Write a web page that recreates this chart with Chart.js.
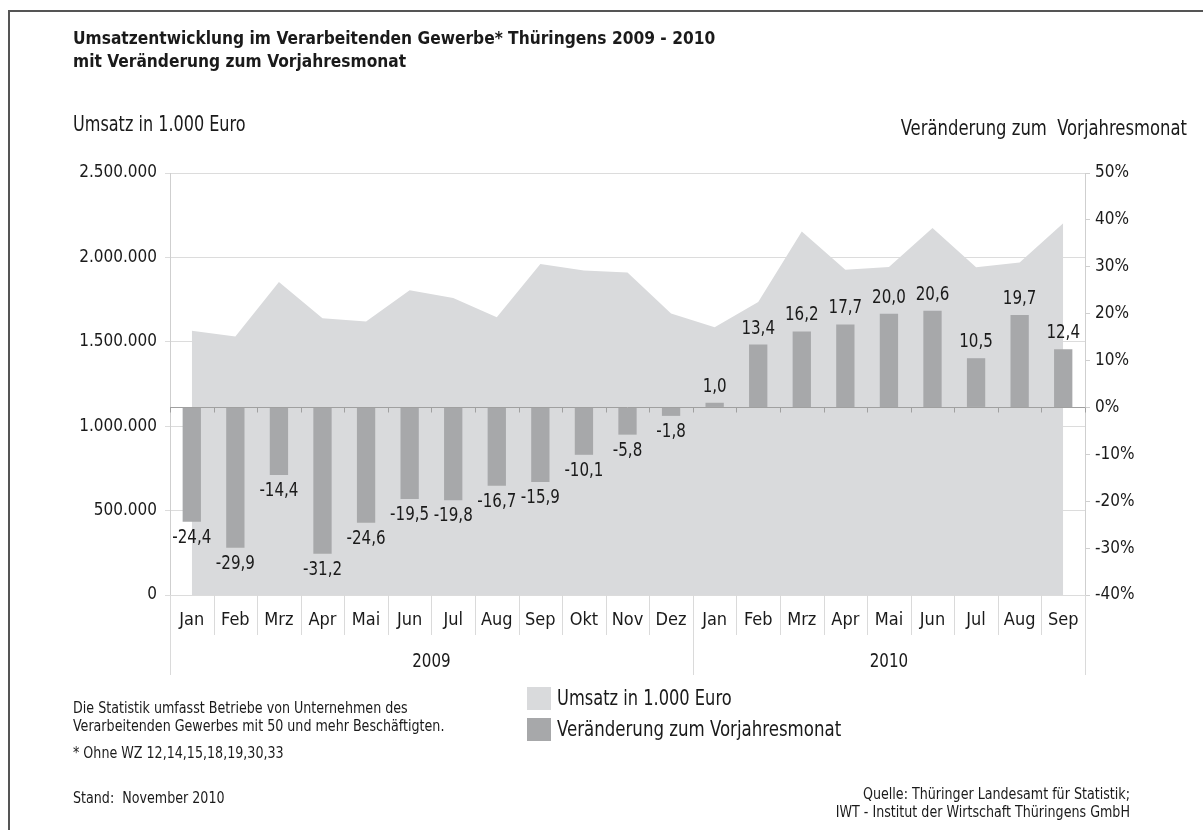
<!DOCTYPE html>
<html lang="de">
<head>
<meta charset="UTF-8">
<title>Umsatzentwicklung Verarbeitendes Gewerbe Thüringen 2009 - 2010</title>
<script src="https://cdn.jsdelivr.net/npm/chart.js@4/dist/chart.umd.min.js"></script>
<style>
    body { margin: 0; padding: 0; background: #fff; }
    #wrap { position: relative; width: 1203px; height: 830px; overflow: hidden;
            font-family: "Liberation Sans Narrow", "DejaVu Sans Condensed", "Roboto", sans-serif; color: #1a1a1a; }
    #frame { position: absolute; left: 8px; top: 10px; width: 1300px; height: 900px;
             border-left: 2px solid #555; border-top: 2px solid #555; }
    #chart { position: absolute; left: 0; top: 0; }
    .txt { position: absolute; white-space: nowrap; line-height: 1; transform-origin: left top; }
    .r { transform-origin: right top; text-align: right; }
    .box { position: absolute; width: 24px; height: 23px; }
</style>
</head>
<body>
<div id="wrap">
    <div id="frame"></div>
    <canvas id="chart" width="1203" height="830"></canvas>

    <div class="txt" style="left:73px; top:26px; font-size:18.5px; font-weight:bold; line-height:23px; transform:scaleX(0.93);">
        Umsatzentwicklung im Verarbeitenden Gewerbe* Thüringens 2009 - 2010<br>mit Veränderung zum Vorjahresmonat
    </div>
    <div class="txt" style="left:73px; top:114px; font-size:21px; transform:scaleX(0.85);">Umsatz in 1.000 Euro</div>
    <div class="txt r" style="right:16px; top:118px; font-size:21px; transform:scaleX(0.87);">Veränderung zum&nbsp; Vorjahresmonat</div>

    <!-- legend -->
    <div class="box" style="left:527px; top:687px; background:#d9dadc;"></div>
    <div class="txt" style="left:557px; top:688px; font-size:21px; transform:scaleX(0.86);">Umsatz in 1.000 Euro</div>
    <div class="box" style="left:527px; top:718px; background:#a7a8aa;"></div>
    <div class="txt" style="left:557px; top:719px; font-size:21px; transform:scaleX(0.88);">Veränderung zum Vorjahresmonat</div>

    <!-- notes -->
    <div class="txt" style="left:73px; top:701px; font-size:15px; transform:scaleX(0.94);">Die Statistik umfasst Betriebe von Unternehmen des</div>
    <div class="txt" style="left:73px; top:719px; font-size:15px; transform:scaleX(0.94);">Verarbeitenden Gewerbes mit 50 und mehr Beschäftigten.</div>
    <div class="txt" style="left:73px; top:746px; font-size:15px; transform:scaleX(0.94);">* Ohne WZ 12,14,15,18,19,30,33</div>
    <div class="txt" style="left:73px; top:791px; font-size:15px; transform:scaleX(0.94);">Stand:&nbsp; November 2010</div>
    <div class="txt r" style="right:73px; top:785px; font-size:15px; line-height:18px; transform:scaleX(0.94);">
        Quelle: Thüringer Landesamt für Statistik;<br>IWT - Institut der Wirtschaft Thüringens GmbH
    </div>
</div>

<script>
    // Monate (Kategorien)
    const months = ['Jan', 'Feb', 'Mrz', 'Apr', 'Mai', 'Jun', 'Jul', 'Aug', 'Sep', 'Okt', 'Nov', 'Dez',
                    'Jan', 'Feb', 'Mrz', 'Apr', 'Mai', 'Jun', 'Jul', 'Aug', 'Sep'];
    const years = ['2009', '2010'];
    const monthsPerYear = [12, 9];

    // Umsatz in 1.000 Euro
    const umsatz = [1565000, 1531000, 1854000, 1639000, 1621000, 1805000, 1760000, 1645000, 1961000, 1923000, 1911000, 1667000,
                    1586000, 1736000, 2154000, 1927000, 1943000, 2174000, 1941000, 1970000, 2203000];

    // Veränderung zum Vorjahresmonat in %
    const veraenderung = [-24.4, -29.9, -14.4, -31.2, -24.6, -19.5, -19.8, -16.7, -15.9, -10.1, -5.8, -1.8,
                          1.0, 13.4, 16.2, 17.7, 20.0, 20.6, 10.5, 19.7, 12.4];

    // Achsen
    const umsatzMin = 0, umsatzMax = 2500000, umsatzStep = 500000;
    const prozentMin = -40, prozentMax = 50, prozentStep = 10;

    const FONT = '"Liberation Sans Narrow", "DejaVu Sans Condensed", "Roboto", sans-serif';
    const INK = '#1a1a1a';
    const SQUEEZE = 0.84;   // Schrift schmaler ziehen (Condensed-Optik)

    const fmtTsd = v => String(v).replace(/\B(?=(\d{3})+(?!\d))/g, '.');
    const fmtDez = v => v.toFixed(1).replace('.', ',');

    function narrowText(ctx, s, x, y) {
        ctx.save();
        ctx.translate(x, y);
        ctx.scale(SQUEEZE, 1);
        ctx.fillText(s, 0, 0);
        ctx.restore();
    }

    // Zusatzzeichnung: Nulllinie, Trennstriche unter der Achse, Jahre, Balkenwerte
    const decor = {
        id: 'decor',
        afterDatasetsDraw(chart) {
            const {ctx, chartArea: a, scales: {x, y1}} = chart;
            const n = months.length;
            const edge = i => i === 0 ? a.left : i === n ? a.right
                : (x.getPixelForValue(i - 1) + x.getPixelForValue(i)) / 2;
            const px = v => Math.round(v) + 0.5;

            ctx.save();
            // Nulllinie der Prozentachse mit Teilstrichen
            const y0 = px(y1.getPixelForValue(0));
            ctx.strokeStyle = '#a0a0a0';
            ctx.lineWidth = 1;
            ctx.beginPath();
            ctx.moveTo(a.left, y0);
            ctx.lineTo(a.right, y0);
            for (let i = 0; i <= n; i++) {
                ctx.moveTo(px(edge(i)), y0);
                ctx.lineTo(px(edge(i)), y0 + 5);
            }
            ctx.stroke();

            // Trennstriche Monate / Jahre
            ctx.strokeStyle = '#dadada';
            ctx.beginPath();
            const groupEdges = [0];
            monthsPerYear.reduce((s, c) => { groupEdges.push(s + c); return s + c; }, 0);
            for (let i = 0; i <= n; i++) {
                const len = groupEdges.includes(i) ? 80 : 40;
                ctx.moveTo(px(edge(i)), a.bottom);
                ctx.lineTo(px(edge(i)), a.bottom + len);
            }
            ctx.stroke();

            ctx.fillStyle = INK;
            ctx.font = '20px ' + FONT;
            ctx.textAlign = 'center';
            ctx.textBaseline = 'alphabetic';
            years.forEach((yr, k) => {
                const cx = (edge(groupEdges[k]) + edge(groupEdges[k + 1])) / 2;
                narrowText(ctx, yr, cx, a.bottom + 72);
            });

            // Balkenbeschriftung
            ctx.font = '20px ' + FONT;
            const meta = chart.getDatasetMeta(1);
            meta.data.forEach((bar, i) => {
                const v = veraenderung[i];
                const ty = v >= 0 ? bar.y - 11 : bar.y + 21;
                narrowText(ctx, fmtDez(v), bar.x, ty);
            });
            ctx.restore();
        }
    };

    const ctx = document.getElementById('chart').getContext('2d');
    const chart = new Chart(ctx, {
        data: {
            labels: months,
            datasets: [{
                type: 'line',
                label: 'Umsatz in 1.000 Euro',
                data: umsatz,
                yAxisID: 'y',
                fill: 'origin',
                backgroundColor: '#d9dadc',
                borderWidth: 0,
                pointRadius: 0,
                tension: 0,
                order: 2
            }, {
                type: 'bar',
                label: 'Veränderung zum Vorjahresmonat',
                data: veraenderung,
                yAxisID: 'y1',
                backgroundColor: '#a7a8aa',
                barPercentage: 0.42,
                categoryPercentage: 1.0,
                order: 1
            }]
        },
        options: {
            responsive: false,
            animation: false,
            layout: { padding: { top: 173, left: 0, right: 0, bottom: 0 } },
            plugins: { legend: { display: false }, tooltip: { enabled: false } },
            scales: {
                x: {
                    offset: true,
                    grid: { display: false },
                    border: { display: false },
                    ticks: { color: INK, font: { family: FONT, size: 18 }, padding: 7, maxRotation: 0, autoSkip: false },
                    afterFit: s => { s.height = 235; }
                },
                y: {
                    position: 'left',
                    min: umsatzMin, max: umsatzMax,
                    ticks: { stepSize: umsatzStep, color: INK, font: { family: FONT, size: 17 }, padding: 8,
                             callback: v => fmtTsd(v) },
                    grid: { color: '#dcdcdc', tickLength: 5 },
                    border: { display: true, color: '#cfcfcf' },
                    afterFit: s => { s.width = 170; }
                },
                y1: {
                    position: 'right',
                    min: prozentMin, max: prozentMax,
                    ticks: { stepSize: prozentStep, color: INK, font: { family: FONT, size: 17 }, padding: 5,
                             callback: v => v + '%' },
                    grid: { drawOnChartArea: false, color: '#cfcfcf', tickLength: 5 },
                    border: { display: true, color: '#cfcfcf' },
                    afterFit: s => { s.width = 118; }
                }
            }
        },
        plugins: [decor]
    });
</script>
</body>
</html>
